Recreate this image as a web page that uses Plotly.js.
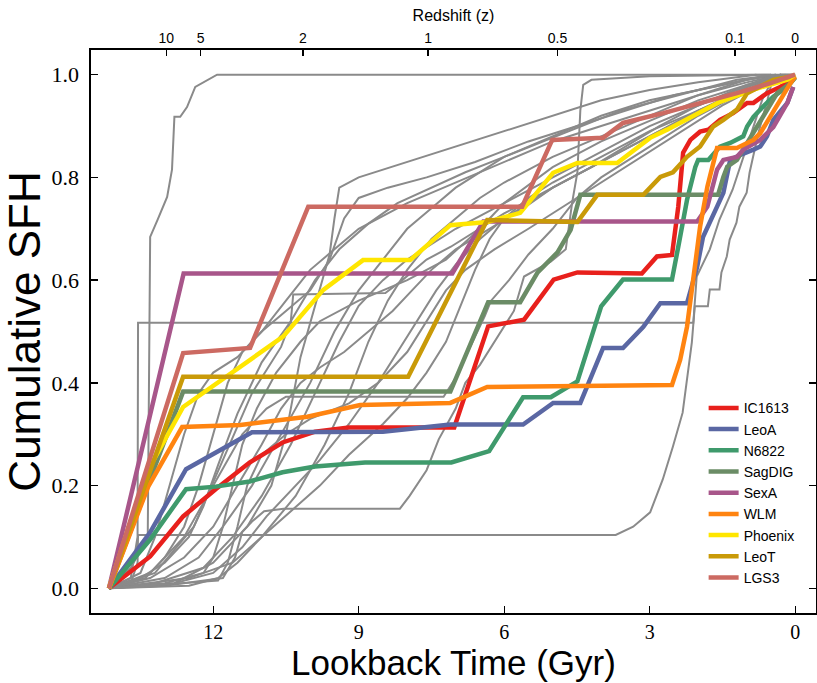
<!DOCTYPE html>
<html>
<head>
<meta charset="utf-8">
<script src="https://cdn.plot.ly/plotly-3.0.1.min.js"></script>
<style>html,body{margin:0;padding:0;background:#fff;}#chart{width:817px;height:683px;}</style>
</head>
<body>
<div id="chart"></div>
<script>
// ---------- data (lookback time in Gyr, cumulative SFH) ----------
const galaxyNames = ["IC1613","LeoA","N6822","SagDIG","SexA","WLM","Phoenix","LeoT","LGS3"];
const galaxyColors = ["#e8201c","#5a67a3","#3f9a6c","#6b8c66","#a8568a","#ff8410","#ffe600","#c99a08","#cc6a62"];

const ic1613_t = [14.15,13.3,12.62,11.95,11.25,10.57,9.9,9.2,7.03,6.33,5.59,4.98,4.49,3.16,2.85,2.54,2.41,2.31,2.16,1.96,1.79,1.55,1.28,0.99,0.86,0.58,0.31,0.04];
const ic1613_y = [0,0.062,0.14,0.193,0.245,0.284,0.305,0.313,0.313,0.51,0.523,0.601,0.615,0.613,0.646,0.649,0.743,0.848,0.873,0.889,0.893,0.912,0.925,0.945,0.945,0.964,0.976,0.99];

const leoa_t = [14.15,13.3,12.56,11.95,11.2,8.5,7.11,5.61,4.99,4.43,3.96,3.55,3.13,2.78,2.23,2.02,1.9,1.61,1.48,1.34,1.13,0.86,0.72,0.58,0.45,0.16,0.04];
const leoa_y = [0,0.109,0.232,0.265,0.304,0.305,0.319,0.319,0.361,0.361,0.468,0.468,0.509,0.555,0.555,0.626,0.684,0.743,0.77,0.834,0.844,0.854,0.86,0.88,0.912,0.945,0.976];

const n6822_t = [14.15,13.3,12.56,11.95,11.25,10.57,9.9,8.87,7.09,6.31,5.61,5.04,4.49,4.0,3.55,2.54,2.41,2.23,2.06,2.0,1.79,1.55,1.34,1.07,0.99,0.86,0.66,0.45,0.17,0];
const n6822_y = [0,0.095,0.193,0.198,0.208,0.226,0.237,0.245,0.245,0.267,0.372,0.372,0.403,0.549,0.601,0.601,0.665,0.756,0.82,0.834,0.834,0.86,0.867,0.88,0.899,0.918,0.938,0.957,0.976,0.994];

const sagdig_t = [14.15,12.62,7.11,6.62,6.33,5.67,5.31,4.9,4.63,4.43,1.59,1.48,1.4,1.2,0.99,0.78,0.58,0.37,0.1,0];
const sagdig_y = [0,0.383,0.383,0.49,0.557,0.557,0.615,0.654,0.698,0.766,0.766,0.801,0.821,0.834,0.867,0.899,0.931,0.964,0.983,0.996];

const sexa_t = [14.15,12.61,7.07,6.62,6.43,2.02,1.81,1.61,1.48,1.2,1.07,0.72,0.45,0.16,0.04];
const sexa_y = [0,0.613,0.613,0.685,0.714,0.714,0.743,0.815,0.834,0.84,0.854,0.873,0.898,0.945,0.976];

const wlm_t = [14.15,13.34,12.64,11.44,10.06,8.97,7.11,6.35,2.54,2.37,2.23,2.1,1.96,1.81,1.61,1.2,0.99,0.86,0.72,0.52,0.31,0.1,0];
const wlm_y = [0,0.198,0.314,0.318,0.334,0.357,0.361,0.392,0.396,0.445,0.509,0.606,0.704,0.782,0.857,0.857,0.867,0.873,0.886,0.918,0.95,0.983,0.996];

const phoenix_t = [14.15,13.38,12.62,11.44,10.56,9.73,8.91,7.94,7.11,6.35,5.67,4.99,4.49,3.67,2.99,2.64,1.55,0.86,0.16,0];
const phoenix_y = [0,0.224,0.353,0.431,0.49,0.581,0.639,0.639,0.707,0.713,0.731,0.809,0.828,0.828,0.877,0.893,0.947,0.971,0.99,1.0];

const leot_t = [14.15,12.62,7.98,6.35,4.49,4.08,3.13,2.78,2.52,2.23,1.96,1.69,1.48,1.2,0.99,0.72,0.45,0.1];
const leot_y = [0,0.412,0.412,0.717,0.713,0.766,0.766,0.801,0.81,0.84,0.86,0.899,0.912,0.932,0.964,0.976,0.99,0.996];

const lgs3_t = [14.15,12.62,11.24,10.04,5.63,5.01,3.96,3.55,2.72,1.9,1.2,0.52,0];
const lgs3_y = [0,0.458,0.468,0.743,0.743,0.873,0.877,0.906,0.925,0.945,0.964,0.983,1.0];

// comparison galaxies (grey)
const gray01_t = [14.15,13.7,13.35,13.3,13.15,12.95,12.85,12.8,12.68,12.54,12.37,12.12,11.92,0];
const gray01_y = [0,0.04,0.1,0.684,0.717,0.762,0.815,0.918,0.918,0.937,0.976,0.99,1.0,1.0];
const gray02_t = [14.15,13.7,13.56,13.55,2.1,2.03,1.76,1.56,1.29,1.09,0.88,0.68,0.47,0.3,0];
const gray02_y = [0,0.02,0.1,0.517,0.517,0.607,0.66,0.718,0.776,0.835,0.893,0.951,0.99,1.0,1.0];
const gray03_t = [14.15,13.7,13.56,13.55,3.7,3.34,2.99,2.73,2.52,2.32,2.13,2.07,1.8,1.76,1.56,1.52,1.41,1.35,1.21,1.15,1.0,0.94,0.88,0.74,0.57,0.47,0.3,0];
const gray03_y = [0,0.01,0.05,0.104,0.104,0.12,0.148,0.212,0.276,0.342,0.479,0.549,0.549,0.582,0.582,0.615,0.646,0.679,0.712,0.743,0.77,0.809,0.835,0.893,0.951,0.99,1.0,1.0];
const gray04_t = [14.15,13.3,12.6,12.0,11.4,10.9,10.5,7.25,7.0,6.8,6.6,6.4,6.27,5.9,5.5,5.0,4.5,4.0,3.0,2.0,1.0,0.3];
const gray04_y = [0,0.03,0.1,0.2,0.3,0.35,0.373,0.373,0.41,0.45,0.49,0.53,0.56,0.6,0.65,0.7,0.76,0.8,0.86,0.92,0.97,1.0];
const gray05_t = [14.15,13.0,11.8,11.55,11.4,11.2,10.95,10.55,8.15,7.95,7.6,7.35,7.0,6.8,6.5,6.3,6.05,5.8,5.59,5.04,4.73,4.6,4.49,4.43,4.37,4.2,3.0,0.5];
const gray05_y = [0,0.005,0.02,0.06,0.11,0.13,0.15,0.155,0.155,0.18,0.23,0.29,0.35,0.4,0.435,0.465,0.5,0.54,0.607,0.636,0.66,0.75,0.81,0.93,0.98,0.99,0.997,1.0];
const gray06_t = [14.15,13.2,12.4,11.8,11.2,10.6,10.4,10.35,8.45,8.1,7.6,7.1,6.5,6.0,5.0,4.0,3.0,2.0,1.0,0.3];
const gray06_y = [0,0.03,0.12,0.25,0.38,0.47,0.52,0.572,0.575,0.6,0.64,0.665,0.7,0.73,0.78,0.83,0.88,0.93,0.975,1.0];
const gray07_t = [14.15,13.0,12.3,11.8,11.2,10.6,10.0,9.5,9.0,8.5,8.0,7.5,7.0,6.0,5.0,4.0,3.0,2.0,1.0,0.4];
const gray07_y = [0,0.02,0.06,0.12,0.2,0.3,0.4,0.5,0.58,0.64,0.7,0.74,0.78,0.84,0.88,0.92,0.95,0.97,0.99,1.0];
const gray08_t = [14.15,13.2,12.2,11.6,11.0,10.4,9.9,9.4,9.0,8.5,8.0,7.0,6.0,5.0,4.0,3.0,2.0,1.0,0.3];
const gray08_y = [0,0.01,0.04,0.1,0.18,0.28,0.38,0.48,0.55,0.6,0.64,0.7,0.75,0.8,0.85,0.9,0.94,0.98,1.0];
const gray09_t = [14.15,12.8,12.0,11.3,10.8,10.5,10.2,9.9,9.6,9.5,9.4,9.0,8.0,7.0,6.0,5.0,4.0,3.0,2.0,0.8];
const gray09_y = [0,0.01,0.05,0.12,0.2,0.3,0.45,0.55,0.65,0.72,0.78,0.8,0.83,0.86,0.89,0.92,0.95,0.97,0.985,1.0];
const gray10_t = [14.15,12.5,11.6,11.0,10.3,9.7,9.2,8.8,8.4,8.0,7.5,7.0,6.5,6.0,5.0,4.0,3.0,2.0,1.0,0.3];
const gray10_y = [0,0.02,0.05,0.1,0.18,0.28,0.38,0.48,0.56,0.62,0.68,0.72,0.76,0.79,0.84,0.88,0.92,0.96,0.99,1.0];
const gray11_t = [14.15,12.8,12.0,11.4,10.9,10.3,9.8,9.2,8.6,8.2,7.8,7.4,7.0,6.5,6.0,5.0,4.0,3.0,2.0,1.0,0.3];
const gray11_y = [0,0.01,0.03,0.08,0.14,0.2,0.25,0.32,0.4,0.46,0.52,0.58,0.63,0.68,0.72,0.78,0.83,0.88,0.93,0.97,1.0];
const gray12_t = [14.15,12.5,11.9,11.5,11.0,10.4,9.8,9.2,8.5,8.0,7.6,7.2,6.9,6.6,6.3,6.0,5.5,5.0,4.0,3.0,2.0,1.0,0.3];
const gray12_y = [0,0.005,0.02,0.05,0.1,0.15,0.2,0.26,0.32,0.37,0.42,0.48,0.55,0.62,0.68,0.72,0.76,0.79,0.84,0.89,0.93,0.97,1.0];
const gray13_t = [14.15,13.0,12.2,12.0,11.8,11.6,11.4,11.1,10.7,10.2,9.8,9.0,8.0,7.2,6.5,6.0,5.0,4.0,3.0,2.0,1.0,0.3];
const gray13_y = [0,0.01,0.03,0.06,0.12,0.2,0.28,0.35,0.42,0.48,0.52,0.56,0.6,0.64,0.7,0.75,0.82,0.87,0.91,0.95,0.98,1.0];
const gray14_t = [14.15,12.5,11.9,11.7,11.5,11.3,11.0,10.5,10.0,9.2,8.6,8.0,7.6,7.2,6.8,6.2,5.5,4.5,3.5,2.5,1.5,0.5,0.2];
const gray14_y = [0,0.012,0.015,0.05,0.12,0.2,0.26,0.3,0.33,0.36,0.4,0.46,0.52,0.58,0.62,0.66,0.7,0.76,0.82,0.88,0.94,0.99,1.0];
const gray15_t = [14.15,13.5,13.2,12.9,12.6,12.3,12.0,11.5,11.0,10.5,10.0,9.5,9.0,8.0,7.0,6.0,5.0,4.0,3.0,2.0,1.0,0.3];
const gray15_y = [0,0.03,0.1,0.2,0.3,0.38,0.42,0.45,0.5,0.56,0.62,0.66,0.7,0.75,0.79,0.83,0.87,0.9,0.93,0.96,0.985,1.0];
const gray16_t = [14.15,13.4,13.0,12.6,12.3,12.0,11.7,11.4,11.0,10.5,10.0,9.6,9.3,9.0,8.4,7.6,6.6,5.5,4.5,3.5,2.5,1.5,0.5];
const gray16_y = [0,0.02,0.06,0.12,0.2,0.3,0.4,0.46,0.5,0.54,0.58,0.64,0.72,0.76,0.78,0.8,0.83,0.87,0.9,0.93,0.96,0.98,1.0];
const gray17_t = [14.15,13.3,12.6,12.0,11.5,11.0,10.6,10.2,9.8,9.3,8.8,8.3,7.9,7.5,7.0,6.3,5.6,5.0,4.2,3.5,2.8,2.0,1.2,0.4];
const gray17_y = [0,0.02,0.06,0.12,0.2,0.28,0.35,0.4,0.43,0.46,0.5,0.54,0.58,0.62,0.66,0.7,0.74,0.78,0.82,0.86,0.9,0.94,0.97,1.0];
const gray18_t = [14.15,13.5,13.0,12.5,12.2,11.9,11.5,11.0,10.4,9.9,9.4,8.8,8.2,7.5,6.8,6.0,5.2,4.4,3.6,2.8,2.0,1.2,0.4];
const gray18_y = [0,0.02,0.05,0.1,0.16,0.24,0.34,0.44,0.52,0.6,0.66,0.71,0.75,0.78,0.81,0.84,0.87,0.9,0.93,0.95,0.97,0.99,1.0];

const grayT = [gray01_t,gray02_t,gray03_t,gray04_t,gray05_t,gray06_t,gray07_t,gray08_t,gray09_t,gray10_t,gray11_t,gray12_t,gray13_t,gray14_t,gray15_t,gray16_t,gray17_t,gray18_t];
const grayY = [gray01_y,gray02_y,gray03_y,gray04_y,gray05_y,gray06_y,gray07_y,gray08_y,gray09_y,gray10_y,gray11_y,gray12_y,gray13_y,gray14_y,gray15_y,gray16_y,gray17_y,gray18_y];
const galaxyT = [ic1613_t,leoa_t,n6822_t,sagdig_t,sexa_t,wlm_t,phoenix_t,leot_t,lgs3_t];
const galaxyY = [ic1613_y,leoa_y,n6822_y,sagdig_y,sexa_y,wlm_y,phoenix_y,leot_y,lgs3_y];

// axis ticks
const lookbackTicks = [12,9,6,3,0];
const redshiftLabels = ["10","5","2","1","0.5","0.1","0"];
const redshiftLookback = [12.97,12.26,10.15,7.57,4.90,1.24,0];
const yTicks = [0,0.2,0.4,0.6,0.8,1.0];

// ---------- traces ----------
const traces = [];
grayT.forEach((t,i)=>{
  traces.push({x:t,y:grayY[i],type:'scatter',mode:'lines',
    line:{color:'#8a8a8a',width:2},showlegend:false,hoverinfo:'skip'});
});
galaxyNames.forEach((n,i)=>{
  traces.push({x:galaxyT[i],y:galaxyY[i],type:'scatter',mode:'lines',name:n,
    line:{color:galaxyColors[i],width:4.5}});
});
traces.push({x:[redshiftLookback[0]],y:[null],xaxis:'x2',type:'scatter',mode:'lines',showlegend:false,hoverinfo:'skip'});

const xr = [14.52,-0.43];
const layout = {
  width:817,height:683,
  margin:{l:91,r:1,t:50,b:70,pad:0},
  paper_bgcolor:'#fff',plot_bgcolor:'#fff',
  showlegend:true,
  legend:{x:0.845,y:0.392,xanchor:'left',yanchor:'top',bgcolor:'rgba(0,0,0,0)',
    font:{family:'Liberation Sans, Arial, sans-serif',size:14,color:'#000'},tracegroupgap:0},
  xaxis:{range:xr,tickvals:lookbackTicks,ticktext:lookbackTicks.map(String),
    ticks:'inside',ticklen:7,tickwidth:1.3,tickcolor:'#000',
    showline:true,linecolor:'#000',linewidth:1.6,showgrid:false,zeroline:false,
    tickfont:{family:'Liberation Serif, DejaVu Serif, serif',size:20,color:'#000'},
    title:{text:'Lookback Time (Gyr)',font:{family:'Liberation Sans, Arial, sans-serif',size:35,color:'#000'},standoff:4}},
  xaxis2:{range:xr,overlaying:'x',side:'top',anchor:'y',tickvals:redshiftLookback,ticktext:redshiftLabels,
    ticks:'inside',ticklen:6,tickwidth:1.3,tickcolor:'#000',
    showline:true,linecolor:'#000',linewidth:1.6,showgrid:false,zeroline:false,
    tickfont:{family:'Liberation Sans, Arial, sans-serif',size:14,color:'#000'},
    title:{text:'Redshift (z)',font:{family:'Liberation Sans, Arial, sans-serif',size:16,color:'#000'},standoff:4}},
  yaxis:{range:[-0.048,1.048],tickvals:yTicks,tickformat:'.1f',
    ticks:'inside',ticklen:7,tickwidth:1.3,tickcolor:'#000',mirror:'ticks',
    showline:true,linecolor:'#000',linewidth:1.6,showgrid:false,zeroline:false,
    ticklabelstandoff:6,
    tickfont:{family:'Liberation Serif, DejaVu Serif, serif',size:22,color:'#000'},
    title:{text:'Cumulative SFH',font:{family:'Liberation Sans, Arial, sans-serif',size:44,color:'#000'},standoff:2}}
};
Plotly.newPlot('chart',traces,layout,{displayModeBar:false,staticPlot:true});
</script>
</body>
</html>
